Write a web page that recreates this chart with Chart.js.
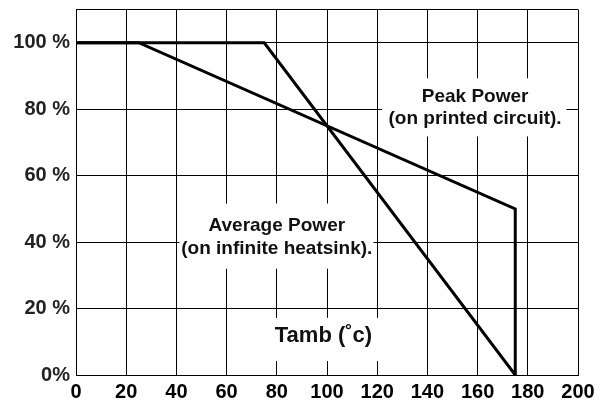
<!DOCTYPE html>
<html>
<head>
<meta charset="utf-8">
<script src="https://cdn.jsdelivr.net/npm/chart.js@4"></script>
<style>
  html, body { margin: 0; padding: 0; background: #fff; }
  #wrap { width: 607px; height: 403px; }
</style>
</head>
<body>
<div id="wrap"><canvas id="chart" width="607" height="403"></canvas></div>
<script>
// derating curves
const peakX = [0, 25, 175, 175];
const peakY = [100, 100, 50, 0];
const avgX = [0, 75, 175];
const avgY = [100, 100, 0];

const xTicks = [0, 20, 40, 60, 80, 100, 120, 140, 160, 180, 200];
const yTicks = [0, 20, 40, 60, 80, 100];
const yTickLabels = ['0%', '20 %', '40 %', '60 %', '80 %', '100 %'];

// text boxes sitting on the grid (data units)
const notes = [
    { lines: ['Peak Power', '(on printed circuit).'], cx: 159, ys: [83.8, 77.2], box: [122, 195.4, 89.3, 71.8], size: 19 },
    { lines: ['Average Power', '(on infinite heatsink).'], cx: 80, ys: [44.9, 38], box: [41.2, 118.5, 51.6, 32], size: 19 },
    { lines: ['Tamb (\u02DAc)'], cx: 98.6, ys: [11.8], box: [76.5, 121.8, 17.2, 4.2], size: 22 }
];

const toPoints = (xs, ys) => xs.map((x, i) => ({ x: x, y: ys[i] }));

const notesPlugin = {
    id: 'notes',
    beforeDatasetsDraw(chart) {
        const { ctx, scales: { x, y } } = chart;
        ctx.save();
        notes.forEach(n => {
            const l = x.getPixelForValue(n.box[0]), r = x.getPixelForValue(n.box[1]);
            const t = y.getPixelForValue(n.box[2]), b = y.getPixelForValue(n.box[3]);
            ctx.fillStyle = '#fff';
            ctx.fillRect(l, t, r - l, b - t);
            ctx.fillStyle = '#111';
            ctx.font = `bold ${n.size}px "Liberation Sans", Arial, sans-serif`;
            ctx.textAlign = 'center';
            ctx.textBaseline = 'middle';
            n.lines.forEach((s, i) => ctx.fillText(s, x.getPixelForValue(n.cx), y.getPixelForValue(n.ys[i])));
        });
        ctx.restore();
    }
};

new Chart(document.getElementById('chart'), {
    type: 'line',
    data: {
        datasets: [
            { label: 'Peak Power', data: toPoints(peakX, peakY), borderColor: '#000', borderWidth: 3, pointRadius: 0, tension: 0 },
            { label: 'Average Power', data: toPoints(avgX, avgY), borderColor: '#000', borderWidth: 3, pointRadius: 0, tension: 0 }
        ]
    },
    options: {
        responsive: false,
        animation: false,
        layout: { padding: { top: 9.5, right: 29, left: 0, bottom: 0 } },
        plugins: { legend: { display: false }, tooltip: { enabled: false } },
        scales: {
            x: {
                type: 'linear', min: 0, max: 200,
                afterBuildTicks: s => { s.ticks = xTicks.map(v => ({ value: v })); },
                afterFit: s => { s.height = 28; s.paddingLeft = 0; s.paddingRight = 0; },
                grid: { color: '#000', lineWidth: 1, drawTicks: false },
                border: { color: '#000', width: 1 },
                ticks: { color: '#000', padding: 5, maxRotation: 0, font: { family: '"Liberation Sans", Arial', size: 20, weight: 'bold' } }
            },
            y: {
                type: 'linear', min: 0, max: 110,
                afterBuildTicks: s => { s.ticks = yTicks.concat([110]).map(v => ({ value: v })); },
                afterFit: s => { s.width = 76; s.paddingTop = 0; s.paddingBottom = 0; },
                grid: { color: '#000', lineWidth: 1, drawTicks: false },
                border: { color: '#000', width: 1 },
                ticks: {
                    color: '#222', padding: 6,
                    font: { family: '"Liberation Sans", Arial', size: 20, weight: 'bold' },
                    callback: v => { const i = yTicks.indexOf(v); return i < 0 ? '' : yTickLabels[i]; }
                }
            }
        }
    },
    plugins: [notesPlugin]
});
</script>
</body>
</html>
